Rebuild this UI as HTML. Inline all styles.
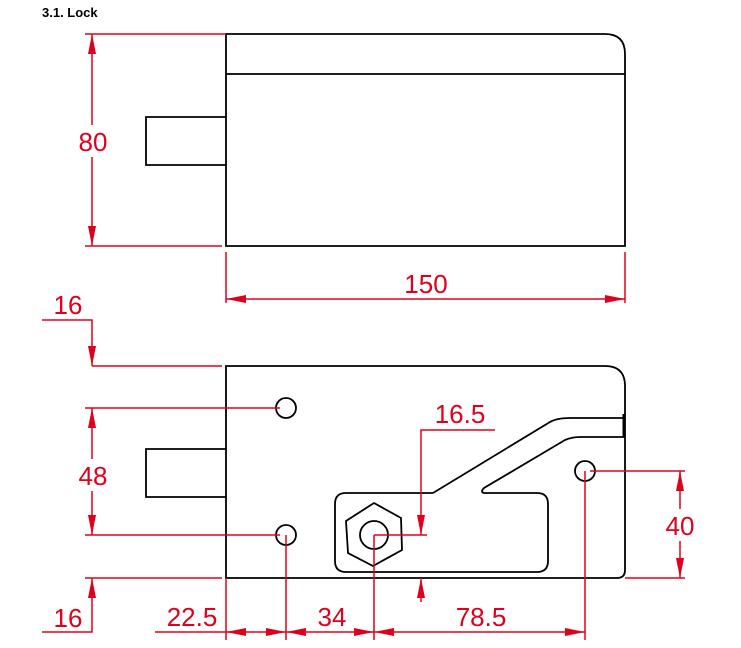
<!DOCTYPE html>
<html><head><meta charset="utf-8"><style>body{margin:0;background:#fff}svg{display:block}</style></head><body>
<svg width="741" height="648" viewBox="0 0 741 648" xmlns="http://www.w3.org/2000/svg">
<defs>
<marker id="a" viewBox="0 0 20 8" refX="20" refY="4" markerWidth="20" markerHeight="8" markerUnits="userSpaceOnUse" orient="auto-start-reverse"><path d="M0,0L20,4L0,8z" fill="#e0001b"/></marker>
</defs>
<text x="42" y="17" font-family="Liberation Sans, sans-serif" font-weight="bold" font-size="13">3.1. Lock</text>
<g fill="none" stroke="#000" stroke-width="1.8">
<path d="M226,34H605Q625,34 625,54V246H226Z"/>
<path d="M226,74H625"/>
<path d="M226,117H146V165H226"/>
<path d="M226,366H605Q625,366 625,386V570Q625,578 617,578H226Z"/>
<path d="M226,449H146V497H226"/>
<circle cx="286" cy="408" r="10"/><circle cx="286" cy="535" r="10"/><circle cx="585" cy="471" r="10"/>
<polygon points="374,503 401,518 402,550 373,566 348,553 346,521"/>
<circle cx="374" cy="535" r="14"/>
<path d="M433,493H346Q335,493 335,504V561Q335,572 346,572H537Q548,572 548,561V504Q548,493 537,493H484Q480,492 484,488L565,440Q572,437 580,437H625"/>
<path d="M433,493L550,422Q557,418 570,418H624"/>
<path d="M624,414V437" stroke-width="3"/>
</g>
<g stroke="#e0001b" stroke-width="1.5" fill="none">
<path d="M85,34H226M85,246H222"/>
<path d="M92,34V246" marker-start="url(#a)" marker-end="url(#a)"/>
<path d="M226,252V303M625,252V303"/>
<path d="M226,299H625" marker-start="url(#a)" marker-end="url(#a)"/>
<path d="M42,320H92V366" marker-end="url(#a)"/>
<path d="M92,366H222"/>
<path d="M85,408H280M85,535H280"/>
<path d="M92,408V535" marker-start="url(#a)" marker-end="url(#a)"/>
<path d="M85,578H222"/>
<path d="M42,632H92V578" marker-end="url(#a)"/>
<path d="M155,632H226M226,578V640M286,535V640M374,535V640M585,471V640"/>
<path d="M226,632H286" marker-start="url(#a)" marker-end="url(#a)"/>
<path d="M286,632H374" marker-start="url(#a)" marker-end="url(#a)"/>
<path d="M374,632H585" marker-start="url(#a)" marker-end="url(#a)"/>
<path d="M421,602V578" marker-end="url(#a)"/>
<path d="M495,430H421V535" marker-end="url(#a)"/>
<path d="M374,535H427"/>
<path d="M590,471H685M625,578H685"/>
<path d="M680,471V578" marker-start="url(#a)" marker-end="url(#a)"/>
</g>
<g fill="#fff">
<rect x="76" y="125" width="34" height="32"/>
<rect x="76" y="459" width="34" height="32"/>
<rect x="663" y="509" width="34" height="32"/>
</g>
<g fill="#e0001b" font-family="Liberation Sans, sans-serif" font-size="26" text-anchor="middle">
<text x="93" y="151">80</text>
<text x="426" y="293">150</text>
<text x="68" y="314">16</text>
<text x="93" y="485">48</text>
<text x="68" y="627">16</text>
<text x="192" y="626">22.5</text>
<text x="332" y="626">34</text>
<text x="481" y="626">78.5</text>
<text x="460" y="423">16.5</text>
<text x="680" y="535">40</text>
</g>
</svg>
</body></html>
